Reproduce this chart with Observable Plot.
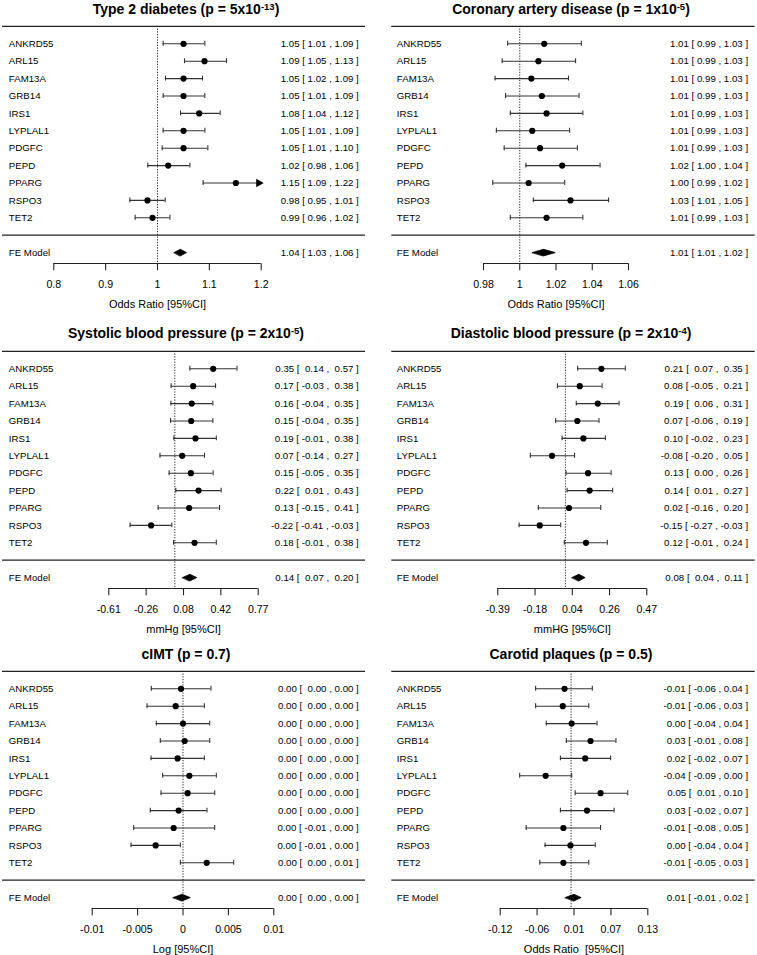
<!DOCTYPE html>
<html><head><meta charset="utf-8">
<script src="https://cdn.jsdelivr.net/npm/d3@7"></script>
<script src="https://cdn.jsdelivr.net/npm/@observablehq/plot@0.6"></script>
<style>
body{margin:0;background:#fff;}
#root{position:relative;width:757px;height:955px;overflow:hidden;background:#fff;font-family:"Liberation Sans",Arial,sans-serif;}
.panel{position:absolute;}
.title{position:absolute;width:360px;text-align:center;font-weight:bold;font-size:14px;line-height:16px;white-space:nowrap;color:#000;z-index:2;}
.title sup{font-size:9.5px;vertical-align:baseline;position:relative;top:-4px;line-height:0;}
</style></head><body><div id="root"></div>
<script>
// ---------------- data ----------------
const genes = ["ANKRD55","ARL15","FAM13A","GRB14","IRS1","LYPLAL1","PDGFC","PEPD","PPARG","RSPO3","TET2"];

// Type 2 diabetes
const t2dEst = [1.0502,1.0907,1.0502,1.0502,1.0804,1.0502,1.0502,1.0206,1.1511,0.9807,0.9904];
const t2dLo  = [1.0109,1.0521,1.0154,1.0109,1.0444,1.0109,1.0090,0.9814,1.0880,0.9466,0.9569];
const t2dHi  = [1.0913,1.1331,1.0868,1.0913,1.1209,1.0913,1.0971,1.0624,1.2200,1.0148,1.0240];
const t2dFE  = [1.044,1.032,1.056];
const t2dText = ["1.05 [ 1.01 , 1.09 ]","1.09 [ 1.05 , 1.13 ]","1.05 [ 1.02 , 1.09 ]","1.05 [ 1.01 , 1.09 ]","1.08 [ 1.04 , 1.12 ]","1.05 [ 1.01 , 1.09 ]","1.05 [ 1.01 , 1.10 ]","1.02 [ 0.98 , 1.06 ]","1.15 [ 1.09 , 1.22 ]","0.98 [ 0.95 , 1.01 ]","0.99 [ 0.96 , 1.02 ]"];
const t2dFEText = "1.04 [ 1.03 , 1.06 ]";
const t2dTicks = [0.8,0.9,1,1.1,1.2];
const t2dTickLabels = ["0.8","0.9","1","1.1","1.2"];

// Coronary artery disease
const cadEst = [1.0135,1.0103,1.0064,1.0122,1.0148,1.0069,1.0112,1.0234,1.0049,1.0280,1.0148];
const cadLo  = [0.9933,0.9903,0.9864,0.9922,0.9948,0.9871,0.9914,1.0034,0.9851,1.0075,0.9948];
const cadHi  = [1.0340,1.0308,1.0269,1.0327,1.0348,1.0275,1.0318,1.0443,1.0248,1.0490,1.0348];
const cadFE  = [1.0131,1.0069,1.0196];
const cadText = ["1.01 [ 0.99 , 1.03 ]","1.01 [ 0.99 , 1.03 ]","1.01 [ 0.99 , 1.03 ]","1.01 [ 0.99 , 1.03 ]","1.01 [ 0.99 , 1.03 ]","1.01 [ 0.99 , 1.03 ]","1.01 [ 0.99 , 1.03 ]","1.02 [ 1.00 , 1.04 ]","1.00 [ 0.99 , 1.02 ]","1.03 [ 1.01 , 1.05 ]","1.01 [ 0.99 , 1.03 ]"];
const cadFEText = "1.01 [ 1.01 , 1.02 ]";
const cadTicks = [0.98,1,1.02,1.04,1.06];
const cadTickLabels = ["0.98","1","1.02","1.04","1.06"];

// Systolic blood pressure
const sbpEst = [0.354,0.169,0.156,0.151,0.191,0.068,0.148,0.219,0.132,-0.219,0.182];
const sbpLo  = [0.139,-0.034,-0.036,-0.040,-0.009,-0.137,-0.053,0.009,-0.154,-0.413,-0.012];
const sbpHi  = [0.574,0.376,0.351,0.351,0.383,0.274,0.354,0.428,0.413,-0.028,0.383];
const sbpFE  = [0.139,0.071,0.203];
const sbpText = ["0.35 [  0.14 ,  0.57 ]","0.17 [ -0.03 ,  0.38 ]","0.16 [ -0.04 ,  0.35 ]","0.15 [ -0.04 ,  0.35 ]","0.19 [ -0.01 ,  0.38 ]","0.07 [ -0.14 ,  0.27 ]","0.15 [ -0.05 ,  0.35 ]","0.22 [  0.01 ,  0.43 ]","0.13 [ -0.15 ,  0.41 ]","-0.22 [ -0.41 , -0.03 ]","0.18 [ -0.01 ,  0.38 ]"];
const sbpFEText = "0.14 [  0.07 ,  0.20 ]";
const sbpTicks = [-0.61,-0.265,0.08,0.425,0.77];
const sbpTickLabels = ["-0.61","-0.26","0.08","0.42","0.77"];

// Diastolic blood pressure
const dbpEst = [0.208,0.083,0.187,0.069,0.104,-0.077,0.131,0.140,0.021,-0.148,0.119];
const dbpLo  = [0.071,-0.046,0.063,-0.056,-0.019,-0.202,0.004,0.010,-0.156,-0.267,-0.006];
const dbpHi  = [0.346,0.212,0.310,0.194,0.231,0.053,0.264,0.273,0.204,-0.027,0.242];
const dbpFE  = [0.077,0.038,0.114];
const dbpText = ["0.21 [  0.07 ,  0.35 ]","0.08 [ -0.05 ,  0.21 ]","0.19 [  0.06 ,  0.31 ]","0.07 [ -0.06 ,  0.19 ]","0.10 [ -0.02 ,  0.23 ]","-0.08 [ -0.20 ,  0.05 ]","0.13 [  0.00 ,  0.26 ]","0.14 [  0.01 ,  0.27 ]","0.02 [ -0.16 ,  0.20 ]","-0.15 [ -0.27 , -0.03 ]","0.12 [ -0.01 ,  0.24 ]"];
const dbpFEText = "0.08 [  0.04 ,  0.11 ]";
const dbpTicks = [-0.39,-0.175,0.04,0.255,0.47];
const dbpTickLabels = ["-0.39","-0.18","0.04","0.26","0.47"];

// cIMT
const cimtEst = [-0.00022,-0.00081,0.00000,0.00018,-0.00059,0.00070,0.00051,-0.00048,-0.00103,-0.00301,0.00261];
const cimtLo  = [-0.00349,-0.00396,-0.00294,-0.00250,-0.00352,-0.00224,-0.00242,-0.00360,-0.00543,-0.00572,-0.00029];
const cimtHi  = [0.00308,0.00235,0.00294,0.00294,0.00235,0.00367,0.00349,0.00264,0.00349,-0.00029,0.00558];
const cimtFE  = [-0.0001,-0.0011,0.0008];
const cimtText = ["0.00 [  0.00 , 0.00 ]","0.00 [  0.00 , 0.00 ]","0.00 [  0.00 , 0.00 ]","0.00 [  0.00 , 0.00 ]","0.00 [  0.00 , 0.00 ]","0.00 [  0.00 , 0.00 ]","0.00 [  0.00 , 0.00 ]","0.00 [  0.00 , 0.00 ]","0.00 [ -0.01 , 0.00 ]","0.00 [ -0.01 , 0.00 ]","0.00 [  0.00 , 0.01 ]"];
const cimtFEText = "0.00 [  0.00 , 0.00 ]";
const cimtTicks = [-0.01,-0.005,0,0.005,0.01];
const cimtTickLabels = ["-0.01","-0.005","0","0.005","0.01"];

// Carotid plaques
const cpEst = [-0.011,-0.014,0.001,0.033,0.024,-0.043,0.050,0.027,-0.013,-0.001,-0.013];
const cpLo  = [-0.060,-0.060,-0.042,-0.008,-0.018,-0.087,0.007,-0.018,-0.076,-0.044,-0.053];
const cpHi  = [0.036,0.030,0.044,0.076,0.067,0.001,0.096,0.073,0.050,0.041,0.030];
const cpFE  = [0.005,-0.010,0.017];
const cpText = ["-0.01 [ -0.06 , 0.04 ]","-0.01 [ -0.06 , 0.03 ]","0.00 [ -0.04 , 0.04 ]","0.03 [ -0.01 , 0.08 ]","0.02 [ -0.02 , 0.07 ]","-0.04 [ -0.09 , 0.00 ]","0.05 [  0.01 , 0.10 ]","0.03 [ -0.02 , 0.07 ]","-0.01 [ -0.08 , 0.05 ]","0.00 [ -0.04 , 0.04 ]","-0.01 [ -0.05 , 0.03 ]"];
const cpFEText = "0.01 [ -0.01 , 0.02 ]";
const cpTicks = [-0.12,-0.0575,0.005,0.0675,0.13];
const cpTickLabels = ["-0.12","-0.06","0.01","0.07","0.13"];

const titles = ["Type 2 diabetes","Coronary artery disease","Systolic blood pressure","Diastolic blood pressure","cIMT","Carotid plaques"];
const pMant = ["5x10","1x10","2x10","2x10","0.7","0.5"];
const pExp  = ["-13","-5","-5","-4","",""];
const axisTitles = ["Odds Ratio [95%CI]","Odds Ratio [95%CI]","mmHg [95%CI]","mmHG [95%CI]","Log [95%CI]","Odds Ratio  [95%CI]"];
const refValues = [1,1,0,0,0,0];

// ---------------- layout ----------------
const H = 311;
const panelTops = [0, 324.5, 644.5];
const titleTops = [0.5, 324.9, 646.2];
const titleCenters = [186, 571];
const colGeom = [
  {left: 0,   width: 378, lineX0: 2,    lineX1: 365,   labelX: 8.3,  textX: 358.3},
  {left: 378, width: 379, lineX0: 13.3, lineX1: 376.7, labelX: 18.3, textX: 369.6}
];
const axisRanges = [[53.3,260.7],[105,250],[108.3,257.7],[119.3,268.3],[91.7,273.3],[121.7,269.3]];
const ROW_TOP = 12, ROW_SEP = 0, ROW_FE = -1, ROW_AXIS = -1.63, ROW_XLAB = -3.98;
const yRange = [25.9, 234.7]; // pixel position of rows 12 and 0
const AXIS_Y = 263.2;
const CAP = 0.14, DIAM = 0.19;
const FONT = "'Liberation Sans', Arial, sans-serif";
const LABEL_SIZE = 9.7;

const panels = [
  {est:t2dEst, lo:t2dLo, hi:t2dHi, fe:t2dFE, text:t2dText, feText:t2dFEText, ticks:t2dTicks, tickLabels:t2dTickLabels},
  {est:cadEst, lo:cadLo, hi:cadHi, fe:cadFE, text:cadText, feText:cadFEText, ticks:cadTicks, tickLabels:cadTickLabels},
  {est:sbpEst, lo:sbpLo, hi:sbpHi, fe:sbpFE, text:sbpText, feText:sbpFEText, ticks:sbpTicks, tickLabels:sbpTickLabels},
  {est:dbpEst, lo:dbpLo, hi:dbpHi, fe:dbpFE, text:dbpText, feText:dbpFEText, ticks:dbpTicks, tickLabels:dbpTickLabels},
  {est:cimtEst, lo:cimtLo, hi:cimtHi, fe:cimtFE, text:cimtText, feText:cimtFEText, ticks:cimtTicks, tickLabels:cimtTickLabels},
  {est:cpEst, lo:cpLo, hi:cpHi, fe:cpFE, text:cpText, feText:cpFEText, ticks:cpTicks, tickLabels:cpTickLabels}
];

const nb = s => s.replace(/ /g, "\u00A0");
const root = document.getElementById("root");

panels.forEach((p, k) => {
  const col = k % 2, rowIdx = Math.floor(k / 2);
  const g = colGeom[col];
  const t0 = p.ticks[0], t1 = p.ticks[p.ticks.length - 1];
  const lo0 = Math.min(t0, t1), hi0 = Math.max(t0, t1);
  const rows = genes.map((gene, i) => ({
    gene, row: 11 - i, est: p.est[i],
    lo: Math.max(p.lo[i], lo0), hi: Math.min(p.hi[i], hi0),
    overHi: p.hi[i] > hi0, overLo: p.lo[i] < lo0,
    lab: nb(p.text[i])
  }));
  const feRow = {gene: "FE Model", row: ROW_FE, lab: nb(p.feText)};
  const diamond = [
    {x: p.fe[1], y: ROW_FE}, {x: p.fe[0], y: ROW_FE + DIAM},
    {x: p.fe[2], y: ROW_FE}, {x: p.fe[0], y: ROW_FE - DIAM}
  ];
  const fmt = d => p.tickLabels[p.ticks.indexOf(d)];

  const svg = Plot.plot({
    width: g.width, height: H,
    marginLeft: g.lineX0, marginRight: g.width - g.lineX1,
    marginTop: 0, marginBottom: H - AXIS_Y,
    x: {domain: [t0, t1], range: axisRanges[k]},
    y: {domain: [ROW_TOP, ROW_SEP], range: yRange, axis: null},
    style: {fontFamily: FONT, fontSize: LABEL_SIZE + "px", background: "transparent", overflow: "visible", color: "#000"},
    marks: [
      Plot.ruleY([ROW_TOP, ROW_SEP], {stroke: "#222", strokeWidth: 1.2}),
      Plot.ruleX([refValues[k]], {y1: () => ROW_TOP, y2: () => ROW_AXIS, stroke: "#222", strokeDasharray: "1.2,1.5", strokeWidth: 1}),
      Plot.ruleY(rows, {y: "row", x1: "lo", x2: "hi", stroke: "#333", strokeWidth: 1.1}),
      Plot.ruleX(rows.filter(d => !d.overLo), {x: "lo", y1: d => d.row - CAP, y2: d => d.row + CAP, stroke: "#333", strokeWidth: 1.1}),
      Plot.ruleX(rows.filter(d => !d.overHi), {x: "hi", y1: d => d.row - CAP, y2: d => d.row + CAP, stroke: "#333", strokeWidth: 1.1}),
      Plot.dot(rows.filter(d => d.overHi), {x: "hi", y: "row", symbol: "triangle", rotate: 90, r: 3.2, fill: "#000", dx: -2.5}),
      Plot.dot(rows, {x: "est", y: "row", r: 3.1, fill: "#000"}),
      Plot.line(diamond, {x: "x", y: "y", fill: "#000", stroke: "#000", strokeWidth: 0.8, curve: "linear-closed"}),
      Plot.text(rows.concat([feRow]), {y: "row", text: "gene", frameAnchor: "left", textAnchor: "start", dx: g.labelX - g.lineX0, fontSize: LABEL_SIZE}),
      Plot.text(rows.concat([feRow]), {y: "row", text: "lab", frameAnchor: "right", textAnchor: "end", dx: g.textX - g.lineX1, fontSize: LABEL_SIZE}),
      Plot.ruleY([{y: ROW_AXIS, x1: t0, x2: t1}], {y: "y", x1: "x1", x2: "x2", stroke: "#222", strokeWidth: 1.1}),
      Plot.axisX(p.ticks, {anchor: "bottom", tickSize: 7, tickPadding: 10, tickFormat: fmt, fontSize: 10.6, label: null, stroke: "#222", strokeWidth: 1.1}),
      Plot.text([axisTitles[k]], {x: () => (t0 + t1) / 2, y: () => ROW_XLAB, text: d => nb(d), fontSize: 11})
    ]
  });
  const wrap = document.createElement("div");
  wrap.className = "panel";
  wrap.style.left = g.left + "px";
  wrap.style.top = panelTops[rowIdx] + "px";
  wrap.appendChild(svg);
  root.appendChild(wrap);

  const t = document.createElement("div");
  t.className = "title";
  t.style.left = (titleCenters[col] - 180) + "px";
  t.style.top = titleTops[rowIdx] + "px";
  t.innerHTML = titles[k] + " (p = " + pMant[k] + (pExp[k] ? "<sup>" + pExp[k] + "</sup>" : "") + ")";
  root.appendChild(t);
});
</script></body></html>
